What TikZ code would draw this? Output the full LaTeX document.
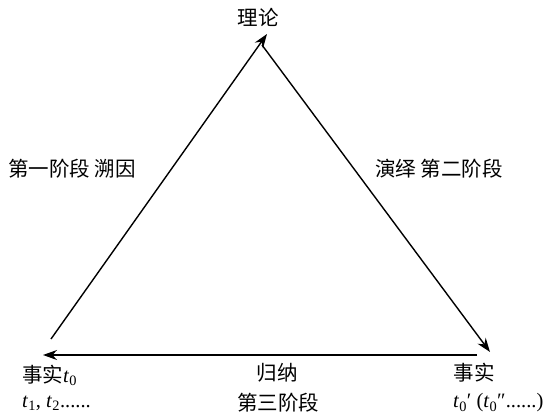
\documentclass[tikz,border=0pt]{standalone}
\usepackage{fontspec}
\setmainfont{Liberation Serif}
\newfontfamily\cjk{Noto Sans CJK SC}
\usetikzlibrary{arrows.meta}
\begin{document}
\begin{tikzpicture}[x=1pt,y=-1pt,
  lbl/.style={inner sep=0pt,font=\fontsize{20.5}{23}\selectfont\cjk},
  tlbl/.style={inner sep=0pt,font=\fontsize{20.5}{23}\selectfont},
  arr/.style={line width=1.4pt,-{Stealth[length=14pt,width=10pt]}}]
\useasboundingbox (0,0) rectangle (543,414);
% connector ends
\coordinate (A) at (51,339);
\coordinate (T) at (267,34);
\coordinate (R1) at (262,45);
\coordinate (B) at (490,352);
\coordinate (BR) at (477,355);
\coordinate (BL) at (43,355);
\draw[arr] (A) -- (T);
\draw[arr] (R1) -- (B);
\draw[arr] (BR) -- (BL);
% labels
\node[lbl] (theory) at (258,17) {理论};
\node[lbl] (stage1) at (72,169) {第一阶段 溯因};
\node[lbl] (stage2) at (439,169) {演绎 第二阶段};
\node[lbl] (induct) at (277,373) {归纳};
\node[lbl] (stage3) at (278,403) {第三阶段};
\node[lbl,anchor=west] (factL) at (22,375) {事实\textrm{\textit{t}\textsubscript{0}}};
\node[tlbl,anchor=west] (tsL) at (22,403) {\textit{t}\textsubscript{1}, \textit{t}\textsubscript{2}......};
\node[lbl] (factR) at (474,373) {事实};
\node[tlbl,anchor=west] (tsR) at (453,403) {\textit{t}\textsubscript{0}′ (\textit{t}\textsubscript{0}″......)};
\end{tikzpicture}
\end{document}
